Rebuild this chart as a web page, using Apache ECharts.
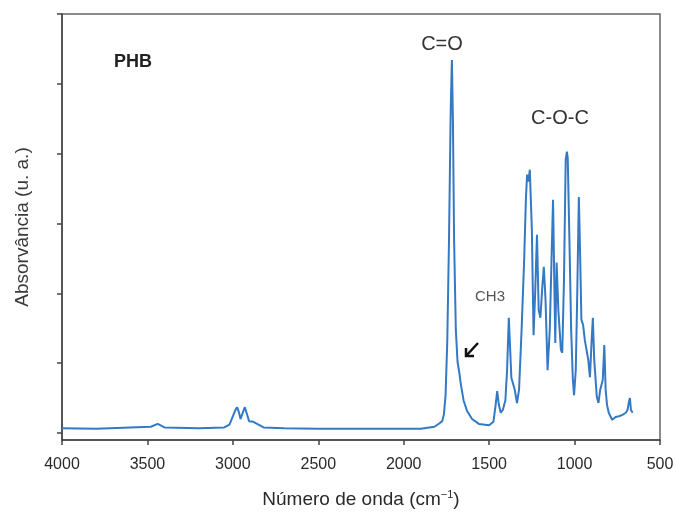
<!DOCTYPE html>
<html><head><meta charset="utf-8">
<script src="https://cdn.jsdelivr.net/npm/echarts@6/dist/echarts.min.js"></script>
<style>html,body{margin:0;padding:0;background:#fff}#c{width:676px;height:512px}</style>
</head><body><div id="c"></div>
<script>
const wavenumbers = [4000,3800,3600,3480,3440,3400,3200,3050,3020,3000,2985,2975,2965,2955,2945,2930,2920,2905,2880,2870,2850,2820,2700,2500,2300,2100,1900,1820,1790,1775,1765,1755,1745,1735,1725,1718,1712,1705,1695,1685,1675,1665,1650,1630,1600,1560,1500,1475,1462,1453,1443,1432,1420,1405,1395,1385,1378,1370,1360,1350,1337,1325,1310,1295,1285,1278,1270,1262,1250,1240,1230,1220,1210,1200,1190,1180,1170,1158,1145,1135,1126,1118,1113,1105,1095,1080,1072,1062,1052,1045,1040,1030,1020,1010,1003,993,985,975,968,960,950,940,930,920,910,900,893,885,870,860,850,835,826,818,810,800,780,760,740,720,700,690,680,676,670,660];
const absorbance = [0.07,0.06,0.08,0.09,0.13,0.08,0.07,0.08,0.12,0.24,0.33,0.37,0.30,0.20,0.27,0.37,0.29,0.17,0.16,0.15,0.12,0.08,0.07,0.06,0.06,0.06,0.06,0.09,0.14,0.17,0.26,0.54,1.32,2.75,4.63,5.34,4.48,2.75,1.48,1.02,0.87,0.69,0.47,0.32,0.20,0.13,0.11,0.16,0.40,0.60,0.40,0.29,0.33,0.47,0.90,1.65,1.26,0.79,0.80,0.62,0.43,0.62,1.48,2.48,3.34,3.70,3.60,3.77,2.91,1.40,2.05,2.84,1.76,1.65,2.05,2.38,1.91,0.90,1.48,2.48,3.34,2.06,1.29,2.44,1.76,1.19,1.15,2.19,3.91,4.03,3.94,2.75,1.48,0.76,0.54,0.90,1.90,3.38,2.62,1.62,1.55,1.33,1.19,1.05,0.80,1.33,1.65,1.05,0.52,0.43,0.62,0.76,1.26,0.62,0.40,0.29,0.19,0.23,0.24,0.26,0.29,0.33,0.47,0.50,0.33,0.29];
const xTicks = [4000,3500,3000,2500,2000,1500,1000,500];
const yTicks = [0,1,2,3,4,5,6];

const chart = echarts.init(document.getElementById('c'), null, {renderer:'canvas'});
const font = 'Liberation Sans, Arial, sans-serif';
chart.setOption({
  animation:false,
  backgroundColor:'#fff',
  grid:{left:62,right:16,top:14,bottom:72,outerBoundsMode:'none',containLabel:false,show:true,borderColor:'#666',borderWidth:1.5,backgroundColor:'transparent'},
  xAxis:{type:'value',inverse:true,min:500,max:4000,interval:500,
    axisLine:{show:true,onZero:false,lineStyle:{color:'#444',width:1.5}},
    axisTick:{show:true,length:5,customValues:xTicks,lineStyle:{color:'#444',width:1.5}},
    axisLabel:{color:'#2a2a2a',fontSize:16,fontFamily:font,margin:17,customValues:xTicks,formatter:v=>String(v)},
    splitLine:{show:false},
    name:'{a|Número de onda (cm}{s|−1}{a|)}',nameLocation:'middle',nameGap:49,
    nameTextStyle:{rich:{a:{fontSize:19,color:'#2a2a2a',fontFamily:font},s:{fontSize:11,color:'#2a2a2a',fontFamily:font,verticalAlign:'top',padding:[0,0,10,0]}}}
  },
  yAxis:{type:'value',min:-0.1,max:6,
    axisLine:{show:true,onZero:false,lineStyle:{color:'#444',width:1.5}},
    axisTick:{show:true,length:5,customValues:yTicks,lineStyle:{color:'#444',width:1.5}},
    axisLabel:{show:false},
    splitLine:{show:false},
    name:'Absorvância (u. a.)',nameLocation:'middle',nameGap:30,
    nameTextStyle:{fontSize:19,color:'#3a3a3a',fontFamily:font}
  },
  series:[{type:'line',data:wavenumbers.map((w,i)=>[w,absorbance[i]]),showSymbol:false,
    lineStyle:{color:'#3479c4',width:2},smooth:false}],
  graphic:[
    {type:'text',x:133,y:62,style:{text:'PHB',fontFamily:font,fontSize:18,fontWeight:'bold',fill:'#222',align:'center',verticalAlign:'middle'}},
    {type:'text',x:442,y:44,style:{text:'C=O',fontFamily:font,fontSize:20,fill:'#333',align:'center',verticalAlign:'middle'}},
    {type:'text',x:560,y:118,style:{text:'C-O-C',fontFamily:font,fontSize:20,fill:'#333',align:'center',verticalAlign:'middle'}},
    {type:'text',x:490,y:297,style:{text:'CH3',fontFamily:font,fontSize:15,fill:'#555',align:'center',verticalAlign:'middle'}},
    {type:'group',silent:true,children:[
      {type:'line',shape:{x1:478,y1:343,x2:466,y2:356},style:{stroke:'#111',lineWidth:2.5}},
      {type:'polyline',shape:{points:[[466,348],[466,356],[474,356]]},style:{stroke:'#111',lineWidth:2.5,fill:null}}
    ]}
  ]
});
</script></body></html>
